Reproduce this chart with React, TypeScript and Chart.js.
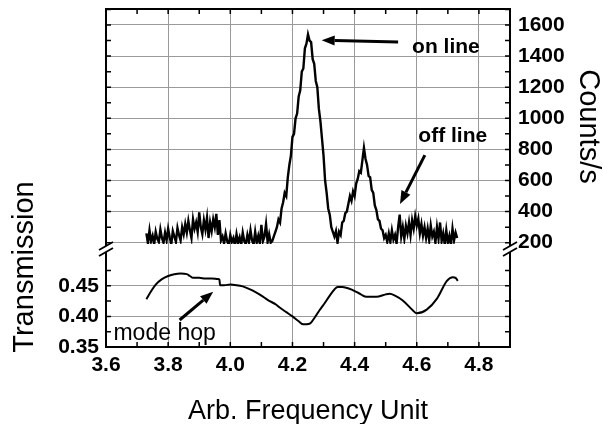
import React, { useEffect, useRef } from 'react';
import { Chart, registerables } from 'chart.js';

Chart.register(...registerables);

const FONT = "'Liberation Sans', Arial, Helvetica, sans-serif";
const GRID = '#9a9a9a';

// Axis ticks
const FREQ_TICKS = [3.6, 3.8, 4.0, 4.2, 4.4, 4.6, 4.8];
const FREQ_MINOR = [3.7, 3.9, 4.1, 4.3, 4.5, 4.7];
const COUNT_TICKS = [200, 400, 600, 800, 1000, 1200, 1400, 1600];
const COUNT_MINOR = [300, 500, 700, 900, 1100, 1300, 1500, 1700];
const TRANS_TICKS = [0.35, 0.4, 0.45];
const TRANS_MINOR = [0.375, 0.425, 0.475];
const BREAK_COUNT = 160;

// Counts/s series: [frequency, counts]
const countSamples: [number, number][] = [
  [3.730, 260], [3.735, 195], [3.740, 280], [3.745, 210], [3.750, 245], [3.755, 190],
  [3.760, 270], [3.765, 225], [3.770, 205], [3.775, 285], [3.780, 230], [3.785, 200],
  [3.790, 265], [3.795, 215], [3.800, 290], [3.805, 235], [3.810, 190], [3.815, 275],
  [3.820, 240], [3.825, 205], [3.830, 295], [3.835, 250], [3.840, 215], [3.845, 300],
  [3.850, 255], [3.855, 320], [3.860, 265], [3.865, 340], [3.870, 280], [3.875, 230],
  [3.880, 350], [3.885, 290], [3.890, 330], [3.895, 270], [3.900, 395], [3.905, 300],
  [3.910, 255], [3.915, 345], [3.920, 285], [3.925, 360], [3.930, 230], [3.935, 330],
  [3.940, 275], [3.945, 350], [3.950, 300], [3.955, 385], [3.960, 250], [3.965, 345],
  [3.970, 215], [3.975, 240], [3.980, 195], [3.985, 260], [3.990, 210], [3.995, 185],
  [4.000, 250], [4.005, 205], [4.010, 230], [4.015, 180], [4.020, 255], [4.025, 200],
  [4.030, 235], [4.035, 185], [4.040, 265], [4.045, 210], [4.050, 190], [4.055, 250],
  [4.060, 205], [4.065, 280], [4.070, 215], [4.075, 190], [4.080, 270], [4.085, 200],
  [4.090, 245], [4.095, 195], [4.100, 315], [4.105, 210], [4.110, 240], [4.115, 320],
  [4.120, 205], [4.125, 255], [4.130, 200], [4.135, 210], [4.140, 240], [4.145, 270],
  [4.150, 300], [4.155, 350], [4.160, 330], [4.165, 420], [4.170, 460], [4.175, 520],
  [4.180, 500], [4.185, 620], [4.190, 700], [4.195, 760], [4.200, 880], [4.205, 900],
  [4.210, 1000], [4.215, 1030], [4.220, 1140], [4.225, 1180], [4.230, 1300], [4.235, 1320],
  [4.240, 1450], [4.245, 1480], [4.250, 1540], [4.255, 1500], [4.260, 1490], [4.265, 1380],
  [4.270, 1350], [4.275, 1240], [4.280, 1200], [4.285, 1060], [4.290, 980], [4.295, 870],
  [4.300, 760], [4.305, 600], [4.310, 520], [4.315, 420], [4.320, 380], [4.325, 300],
  [4.330, 270], [4.335, 240], [4.340, 275], [4.345, 200], [4.350, 270], [4.355, 250],
  [4.360, 330], [4.365, 340], [4.370, 390], [4.375, 400], [4.380, 450], [4.385, 500],
  [4.390, 470], [4.395, 530], [4.400, 500], [4.405, 580], [4.410, 610], [4.415, 660],
  [4.420, 650], [4.425, 730], [4.430, 810], [4.435, 740], [4.440, 700], [4.445, 630],
  [4.450, 620], [4.455, 540], [4.460, 520], [4.465, 440], [4.470, 410], [4.475, 350],
  [4.480, 340], [4.485, 290], [4.490, 280], [4.495, 230], [4.500, 250], [4.505, 205],
  [4.510, 260], [4.515, 205], [4.520, 280], [4.525, 220], [4.530, 250], [4.535, 195],
  [4.540, 300], [4.545, 380], [4.550, 240], [4.555, 300], [4.560, 225], [4.565, 310],
  [4.570, 260], [4.575, 330], [4.580, 250], [4.585, 345], [4.590, 290], [4.595, 370],
  [4.600, 310], [4.605, 355], [4.610, 260], [4.615, 320], [4.620, 245], [4.625, 300],
  [4.630, 230], [4.635, 290], [4.640, 215], [4.645, 310], [4.650, 240], [4.655, 270],
  [4.660, 200], [4.665, 300], [4.670, 225], [4.675, 330], [4.680, 210], [4.685, 260],
  [4.690, 190], [4.695, 280], [4.700, 200], [4.705, 245], [4.710, 185], [4.715, 290],
  [4.720, 215], [4.725, 265], [4.730, 230],
];

// Transmission series: [frequency, transmission]
const transmissionSamples: [number, number][] = [
  [3.730, 0.428], [3.745, 0.441], [3.760, 0.452], [3.780, 0.461], [3.800, 0.466],
  [3.820, 0.469], [3.840, 0.470], [3.860, 0.469], [3.870, 0.466], [3.880, 0.463],
  [3.900, 0.463], [3.920, 0.462], [3.940, 0.462], [3.960, 0.461], [3.965, 0.460],
  [3.967, 0.451], [3.980, 0.451], [4.000, 0.452], [4.020, 0.451], [4.040, 0.449],
  [4.060, 0.445], [4.084, 0.439], [4.100, 0.434], [4.120, 0.427], [4.148, 0.419],
  [4.160, 0.414], [4.180, 0.407], [4.200, 0.400], [4.220, 0.392], [4.235, 0.387],
  [4.255, 0.388], [4.270, 0.397], [4.287, 0.410], [4.300, 0.419], [4.320, 0.434],
  [4.335, 0.444], [4.345, 0.448], [4.360, 0.448], [4.394, 0.443], [4.420, 0.436],
  [4.438, 0.432], [4.470, 0.432], [4.500, 0.436], [4.513, 0.437], [4.530, 0.434],
  [4.555, 0.426], [4.587, 0.410], [4.600, 0.405], [4.632, 0.411], [4.665, 0.429],
  [4.697, 0.458], [4.716, 0.464], [4.725, 0.463], [4.732, 0.458],
];

// Annotations (data coordinates)
const NOTES = [
  { text: 'on line', x: 4.585, y: 1418, axis: 'yC', font: `bold 21px ${FONT}` },
  { text: 'off line', x: 4.605, y: 849, axis: 'yC', font: `bold 21px ${FONT}` },
  { text: 'mode hop', x: 3.624, y: 0.3614, axis: 'yT', font: `23px ${FONT}` },
];
const ARROWS = [
  { x1: 4.540, y1: 1491, x2: 4.294, y2: 1502, axis: 'yC' },
  { x1: 4.626, y1: 763, x2: 4.546, y2: 449, axis: 'yC' },
  { x1: 3.837, y1: 0.3941, x2: 3.945, y2: 0.4404, axis: 'yT' },
];

const tickFont = { family: FONT, size: 21, weight: 'bold' as const };

function drawArrow(ctx: CanvasRenderingContext2D, x1: number, y1: number, x2: number, y2: number) {
  const ang = Math.atan2(y2 - y1, x2 - x1);
  const hl = 13;
  const hw = 5;
  const bx = x2 - hl * Math.cos(ang);
  const by = y2 - hl * Math.sin(ang);
  ctx.lineWidth = 3;
  ctx.beginPath();
  ctx.moveTo(x1, y1);
  ctx.lineTo(bx, by);
  ctx.stroke();
  ctx.beginPath();
  ctx.moveTo(x2, y2);
  ctx.lineTo(bx + hw * Math.sin(ang), by - hw * Math.cos(ang));
  ctx.lineTo(bx - hw * Math.sin(ang), by + hw * Math.cos(ang));
  ctx.closePath();
  ctx.fill();
}

const framePlugin = {
  id: 'frameAndNotes',
  afterDraw(chart: any) {
    const { ctx, chartArea: a, scales } = chart;
    const sx = scales.x;
    const yC = scales.yC;
    const yT = scales.yT;
    ctx.save();
    ctx.strokeStyle = '#000';
    ctx.fillStyle = '#000';
    ctx.lineCap = 'butt';
    const tl = 5;
    ctx.lineWidth = 1.5;
    ctx.beginPath();
    [...FREQ_TICKS.slice(1), ...FREQ_MINOR].forEach((v) => {
      const px = sx.getPixelForValue(v);
      ctx.moveTo(px, a.top);
      ctx.lineTo(px, a.top + tl);
      ctx.moveTo(px, a.bottom);
      ctx.lineTo(px, a.bottom - tl);
    });
    [...COUNT_TICKS, ...COUNT_MINOR].forEach((v) => {
      const py = yC.getPixelForValue(v);
      ctx.moveTo(a.left, py);
      ctx.lineTo(a.left + tl, py);
      ctx.moveTo(a.right, py);
      ctx.lineTo(a.right - tl, py);
    });
    [...TRANS_TICKS.slice(1), ...TRANS_MINOR].forEach((v) => {
      const py = yT.getPixelForValue(v);
      ctx.moveTo(a.left, py);
      ctx.lineTo(a.left + tl, py);
      ctx.moveTo(a.right, py);
      ctx.lineTo(a.right - tl, py);
    });
    ctx.stroke();

    // frame with axis breaks
    const brk = yC.getPixelForValue(BREAK_COUNT);
    const gap = 3;
    ctx.lineWidth = 2;
    ctx.beginPath();
    ctx.moveTo(a.left, brk - gap);
    ctx.lineTo(a.left, a.top);
    ctx.lineTo(a.right, a.top);
    ctx.lineTo(a.right, brk - gap);
    ctx.moveTo(a.left, brk + gap);
    ctx.lineTo(a.left, a.bottom);
    ctx.lineTo(a.right, a.bottom);
    ctx.lineTo(a.right, brk + gap);
    ctx.stroke();
    ctx.lineWidth = 1.8;
    ctx.beginPath();
    [a.left, a.right].forEach((bx) => {
      [-gap, gap].forEach((d) => {
        ctx.moveTo(bx - 7, brk + d + 4);
        ctx.lineTo(bx + 7, brk + d - 4);
      });
    });
    ctx.stroke();

    // annotations
    NOTES.forEach((n) => {
      ctx.font = n.font;
      ctx.textAlign = 'left';
      ctx.textBaseline = 'alphabetic';
      ctx.fillText(n.text, sx.getPixelForValue(n.x), scales[n.axis].getPixelForValue(n.y));
    });
    ARROWS.forEach((r) => {
      const ys = scales[r.axis];
      drawArrow(ctx, sx.getPixelForValue(r.x1), ys.getPixelForValue(r.y1), sx.getPixelForValue(r.x2), ys.getPixelForValue(r.y2));
    });
    ctx.restore();
  },
};

function zeroPad(s: any) {
  s.paddingTop = 0;
  s.paddingBottom = 0;
  s.paddingLeft = 0;
  s.paddingRight = 0;
}

export default function App() {
  const ref = useRef<HTMLCanvasElement | null>(null);
  useEffect(() => {
    if (!ref.current) return;
    Chart.defaults.font.family = FONT;
    const chart = new Chart(ref.current, {
      type: 'line',
      data: {
        datasets: [
          {
            label: 'Counts/s',
            data: countSamples.map(([x, y]) => ({ x, y })),
            yAxisID: 'yC',
            borderColor: '#000',
            borderWidth: 2.4,
            pointRadius: 0,
            tension: 0,
          },
          {
            label: 'Transmission',
            data: transmissionSamples.map(([x, y]) => ({ x, y })),
            yAxisID: 'yT',
            borderColor: '#000',
            borderWidth: 2,
            pointRadius: 0,
            cubicInterpolationMode: 'monotone',
          },
        ],
      },
      options: {
        animation: false,
        responsive: false,
        devicePixelRatio: 1,
        layout: { padding: { top: 9, left: 0, right: 0, bottom: 0 } },
        plugins: { legend: { display: false }, tooltip: { enabled: false } },
        scales: {
          x: {
            type: 'linear',
            position: 'bottom',
            min: 3.6,
            max: 4.9,
            afterBuildTicks: (s: any) => {
              s.ticks = FREQ_TICKS.map((v) => ({ value: v }));
            },
            afterFit: (s: any) => {
              s.height = 77;
              zeroPad(s);
            },
            ticks: {
              callback: (v: any) => Number(v).toFixed(1),
              font: tickFont,
              color: '#000',
              padding: 6,
              autoSkip: false,
              maxRotation: 0,
            },
            grid: {
              color: (c: any) => (c.tick && Math.abs(c.tick.value - 3.6) < 1e-6 ? 'rgba(0,0,0,0)' : GRID),
              lineWidth: 1,
              drawTicks: false,
            },
            border: { display: false },
            title: {
              display: true,
              text: 'Arb. Frequency Unit',
              color: '#000',
              font: { family: FONT, size: 27, lineHeight: 0.92 },
              padding: 0,
            },
          },
          yLTop: {
            type: 'linear',
            position: 'left',
            stack: 'left',
            stackWeight: 178,
            weight: 2,
            display: false,
            afterFit: (s: any) => {
              s.width = 106;
              zeroPad(s);
            },
          },
          yT: {
            type: 'linear',
            position: 'left',
            stack: 'left',
            stackWeight: 160,
            weight: 1,
            min: 0.35,
            max: 0.6114,
            afterBuildTicks: (s: any) => {
              s.ticks = TRANS_TICKS.map((v) => ({ value: v }));
            },
            afterFit: (s: any) => {
              s.width = 106;
              zeroPad(s);
            },
            ticks: {
              callback: (v: any) => Number(v).toFixed(2),
              font: tickFont,
              color: '#000',
              padding: 7,
              autoSkip: false,
            },
            grid: {
              color: (c: any) => (c.tick && Math.abs(c.tick.value - 0.35) < 1e-6 ? 'rgba(0,0,0,0)' : GRID),
              lineWidth: 1,
              drawTicks: false,
            },
            border: { display: false },
            title: {
              display: true,
              text: 'Transmission',
              color: '#000',
              font: { family: FONT, size: 29, lineHeight: 1 },
              padding: { top: 10.5, bottom: 0 },
            },
          },
          yC: {
            type: 'linear',
            position: 'right',
            stack: 'right',
            stackWeight: 235,
            weight: 1,
            min: 191.6,
            max: 1702.8,
            afterBuildTicks: (s: any) => {
              s.ticks = COUNT_TICKS.map((v) => ({ value: v }));
            },
            afterFit: (s: any) => {
              s.width = 93;
              zeroPad(s);
            },
            ticks: {
              callback: (v: any) => String(v),
              font: tickFont,
              color: '#000',
              padding: 8,
              autoSkip: false,
            },
            grid: { color: GRID, lineWidth: 1, drawTicks: false },
            border: { display: false },
            title: {
              display: true,
              text: 'Counts/s',
              color: '#000',
              font: { family: FONT, size: 29, lineHeight: 1 },
              padding: { top: 1, bottom: 0 },
            },
          },
          yRBottom: {
            type: 'linear',
            position: 'right',
            stack: 'right',
            stackWeight: 103,
            weight: 2,
            display: false,
            afterFit: (s: any) => {
              s.width = 93;
              zeroPad(s);
            },
          },
        },
      } as any,
      plugins: [framePlugin],
    });
    return () => chart.destroy();
  }, []);
  return (
    <div style={{ position: 'fixed', left: 0, top: 0, width: 603, height: 424, background: '#fff' }}>
      <canvas ref={ref} width={603} height={424} />
    </div>
  );
}
